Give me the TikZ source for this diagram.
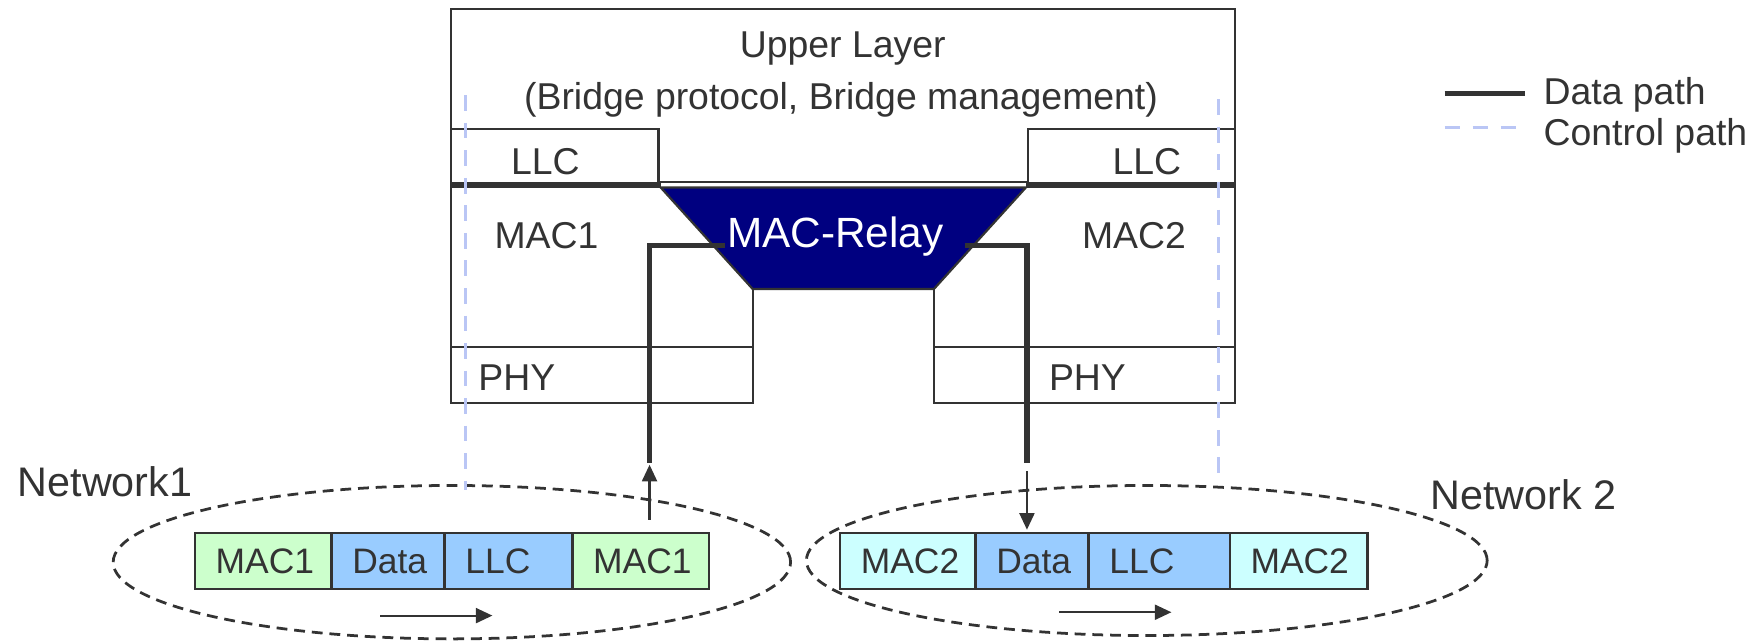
\documentclass[tikz,border=0pt]{standalone}
\usepackage{fontspec}
\setmainfont{Liberation Sans}
\usetikzlibrary{arrows.meta}
\definecolor{lc}{RGB}{51,51,51}
\definecolor{navyc}{RGB}{0,0,128}
\definecolor{ctrlc}{RGB}{186,198,245}
\definecolor{greenc}{RGB}{204,255,204}
\definecolor{bluec}{RGB}{153,204,255}
\definecolor{cyanc}{RGB}{204,255,255}
\begin{document}
\begin{tikzpicture}[x=0.02cm,y=-0.02cm,
 lbl/.style={inner sep=0pt, text=lc, anchor=base, font=\fontsize{19}{22}\selectfont},
 netlbl/.style={inner sep=0pt, text=lc, anchor=base west, font=\fontsize{21}{25}\selectfont},
 relaylbl/.style={inner sep=0pt, text=white, anchor=base, font=\fontsize{21.5}{25}\selectfont},
 boxline/.style={draw=lc, line width=1.1pt},
 datapath/.style={draw=lc, line width=2.6pt},
 ctrlpath/.style={draw=ctrlc, line width=1.8pt, dash pattern=on 8pt off 6pt},
 netring/.style={draw=lc, line width=1.4pt, dash pattern=on 5.5pt off 3.5pt},
 flow/.style={draw=lc, line width=1.1pt, -{Triangle[length=8.4pt,width=7.6pt]}},
 cell/.style={draw=lc, line width=1.3pt, anchor=west, minimum height=1cm, inner xsep=0.37cm, inner ysep=0pt, align=left, text height=12.9pt, text depth=0pt, text=lc, font=\fontsize{18}{21}\selectfont},
]
\useasboundingbox (0,0) rectangle (1568,572.4);

% networks
\draw[netring] (403.5,502) ellipse [x radius=6.05cm, y radius=1.37cm];
\draw[netring] (1024,500.5) ellipse [x radius=6.08cm, y radius=1.34cm];
\node[netlbl] (net1) at (15.5,443.5) {Network1};
\node[netlbl] (net2) at (1277,455) {Network 2};

% frames
\node[cell, fill=greenc, text width=1.70cm] (c11) at (173,501) {MAC1};
\node[cell, fill=bluec,  text width=1.28cm] (c12) at (295,501) {Data};
\node[cell, fill=bluec,  text width=1.54cm] (c13) at (396,501) {LLC};
\node[cell, fill=greenc, text width=1.70cm] (c14) at (510,501) {MAC1};
\node[cell, fill=cyanc,  text width=1.68cm] (c21) at (749,501) {MAC2};
\node[cell, fill=bluec,  text width=1.28cm] (c22) at (870,501) {Data};
\node[cell, fill=bluec,  text width=1.78cm] (c23) at (971,501) {LLC};
\node[cell, fill=cyanc,  text width=1.72cm] (c24) at (1097,501) {MAC2};

% flow arrows
\coordinate (f1a) at (339.4,549.7); \coordinate (f1b) at (439.7,549.7);
\coordinate (f2a) at (945.8,546.7); \coordinate (f2b) at (1046,546.7);
\draw[flow] (f1a) -- (f1b);
\draw[flow] (f2a) -- (f2b);

% bridge frame
\draw[boxline] (834,258) -- (834,359.5) -- (1103,359.5) -- (1103,8.3) -- (403,8.3) -- (403,359.5) -- (672,359.5) -- (672,258);
\draw[boxline] (403,115.5) -- (588,115.5) -- (588,165.5);
\draw[boxline] (918,165.5) -- (918,115.5) -- (1103,115.5);
\draw[boxline] (403,309.5) -- (672,309.5);
\draw[boxline] (834,309.5) -- (1103,309.5);
\draw[boxline] (588,162.5) -- (918,162.5);
\draw[draw=lc, line width=3pt] (403,165.5) -- (590,165.5);
\draw[draw=lc, line width=3pt] (916,165.5) -- (1103,165.5);

% relay
\coordinate (rtl) at (590,167.5); \coordinate (rtr) at (916,167.5);
\coordinate (rbr) at (834,258); \coordinate (rbl) at (672,258);
\path[boxline, fill=navyc] (rtl) -- (rtr) -- (rbr) -- (rbl) -- cycle;
\node[relaylbl] (relay) at (746,220.8) {MAC-Relay};

% labels
\node[lbl] (upper) at (752.5,51) {Upper Layer};
\node[lbl] (bridge) at (751,98) {(Bridge protocol, Bridge management)};
\node[lbl] (llc1) at (487,155.4) {LLC};
\node[lbl] (llc2) at (1024,155.4) {LLC};
\node[lbl] (mac1) at (488,221.7) {MAC1};
\node[lbl] (mac2) at (1012.6,221.7) {MAC2};
\node[lbl] (phy1) at (461.5,349) {PHY};
\node[lbl] (phy2) at (971,349) {PHY};

% data paths
\coordinate (d1a) at (647,219); \coordinate (d1b) at (580,413);
\coordinate (d2a) at (862,219); \coordinate (d2b) at (917,413);
\draw[datapath] (d1a) -| (d1b);
\draw[datapath] (d2a) -| (d2b);
\coordinate (u1a) at (580,464); \coordinate (u1b) at (580,415);
\coordinate (u2a) at (917,421); \coordinate (u2b) at (917,473);
\draw[flow] (u1a) -- (u1b);
\draw[flow] (u2a) -- (u2b);

% control paths
\coordinate (k1a) at (415.5,85); \coordinate (k1b) at (415.5,437.5);
\coordinate (k2a) at (1088,88.7); \coordinate (k2b) at (1088,427);
\draw[ctrlpath] (k1a) -- (k1b);
\draw[ctrlpath] (k2a) -- (k2b);

% legend
\coordinate (lg1a) at (1290,83.5); \coordinate (lg1b) at (1362,83.5);
\coordinate (lg2a) at (1290,114); \coordinate (lg2b) at (1355,114);
\draw[draw=lc, line width=2.7pt] (lg1a) -- (lg1b);
\draw[draw=ctrlc, line width=1.8pt, dash pattern=on 7.6pt off 6.6pt] (lg2a) -- (lg2b);
\node[netlbl, font=\fontsize{19}{22}\selectfont] (lgd) at (1378,93.5) {Data path};
\node[netlbl, font=\fontsize{19}{22}\selectfont] (lgc) at (1378,129.5) {Control path};
\end{tikzpicture}
\end{document}
